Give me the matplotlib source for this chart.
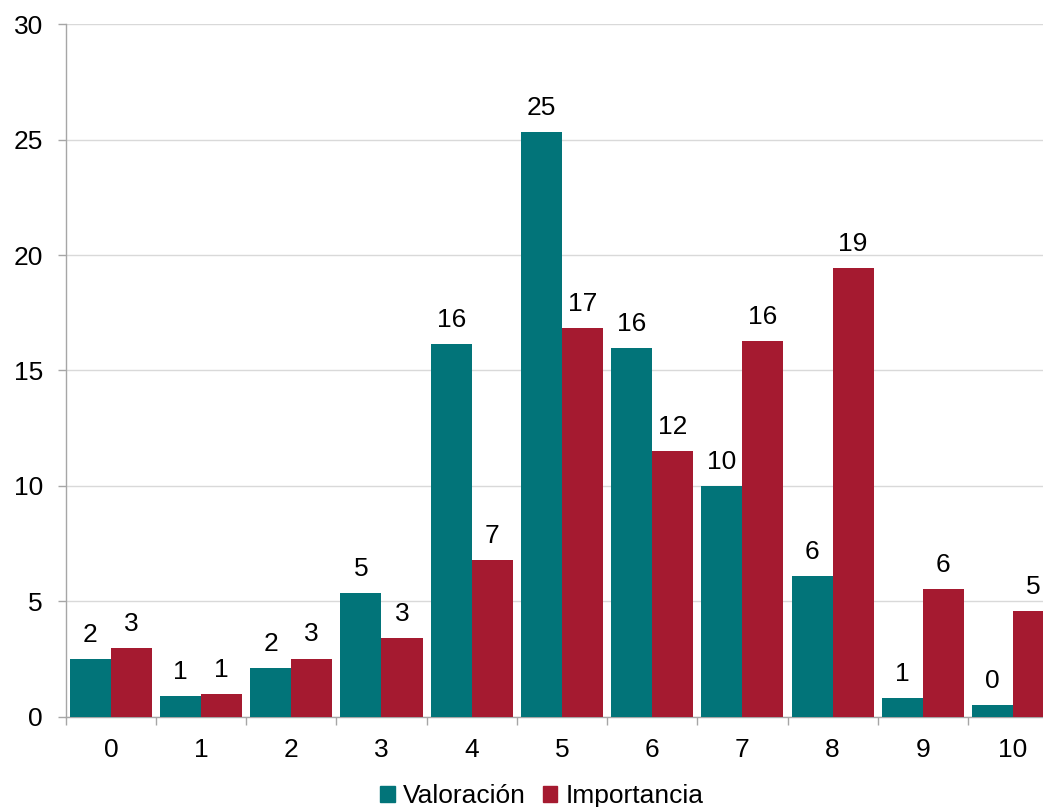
import matplotlib
matplotlib.use("Agg")
import matplotlib.pyplot as plt
from matplotlib.patches import Rectangle
import numpy as np

plt.rcParams['font.family'] = ['Liberation Sans', 'DejaVu Sans']

categories = ['0', '1', '2', '3', '4', '5', '6', '7', '8', '9', '10']
valoracion = [2.48, 0.88, 2.10, 5.36, 16.15, 25.32, 15.96, 10.0, 6.08, 0.80, 0.49]
importancia = [2.99, 0.98, 2.52, 3.41, 6.79, 16.83, 11.51, 16.27, 19.44, 5.52, 4.58]
series_names = ['Valoración', 'Importancia']
yticks = [0, 5, 10, 15, 20, 25, 30]

teal = '#027479'
red = '#A51A30'
FS = 19

W, H = 1043, 807
fig = plt.figure(figsize=(W / 100, H / 100), dpi=100)
ax = fig.add_axes([65.7 / W, (H - 716.7) / H, 992.5 / W, (716.7 - 24.2) / H])

x = np.arange(len(categories))
bw = 0.4545
ax.bar(x - bw / 2, valoracion, width=bw, color=teal, zorder=3)
ax.bar(x + bw / 2, importancia, width=bw, color=red, zorder=3)

for xs, vals in ((x - bw / 2, valoracion), (x + bw / 2, importancia)):
    for xi, v in zip(xs, vals):
        ax.annotate(f"{v:.0f}", (xi, v), xytext=(0, 12.3), textcoords='offset points',
                    ha='center', va='baseline', fontsize=FS, color='black')

ax.set_xlim(-0.5, len(categories) - 0.5)
ax.set_ylim(0, 30)
ax.set_yticks(yticks)
ax.set_yticklabels([str(t) for t in yticks])
ax.yaxis.grid(True, color='#d9d9d9', linewidth=1.0, zorder=0)
ax.set_axisbelow(True)

ax.set_xticks(np.arange(-0.5, len(categories), 1.0))
ax.set_xticklabels([])
ax.set_xticks(x, minor=True)
ax.set_xticklabels(categories, minor=True)
ax.tick_params(axis='x', which='major', length=6, width=1, color='#a6a6a6', direction='out')
ax.tick_params(axis='x', which='minor', length=0, pad=15, labelsize=FS, labelcolor='black')
ax.tick_params(axis='y', length=5.5, width=1, color='#a6a6a6', pad=11, labelsize=FS, labelcolor='black')

for s in ('top', 'right'):
    ax.spines[s].set_visible(False)
for s in ('left', 'bottom'):
    ax.spines[s].set_color('#a6a6a6')
    ax.spines[s].set_linewidth(1.0)

handles = [Rectangle((0, 0), 1, 1, color=teal), Rectangle((0, 0), 1, 1, color=red)]
fig.legend(handles, series_names, loc='center', bbox_to_anchor=(541.5 / W, 1 - 796.0 / H),
           ncol=2, frameon=False, fontsize=19, handlelength=0.56, handleheight=0.56,
           handletextpad=0.3, columnspacing=0.65, borderpad=0, borderaxespad=0)

fig.savefig('out.png', dpi=100)
